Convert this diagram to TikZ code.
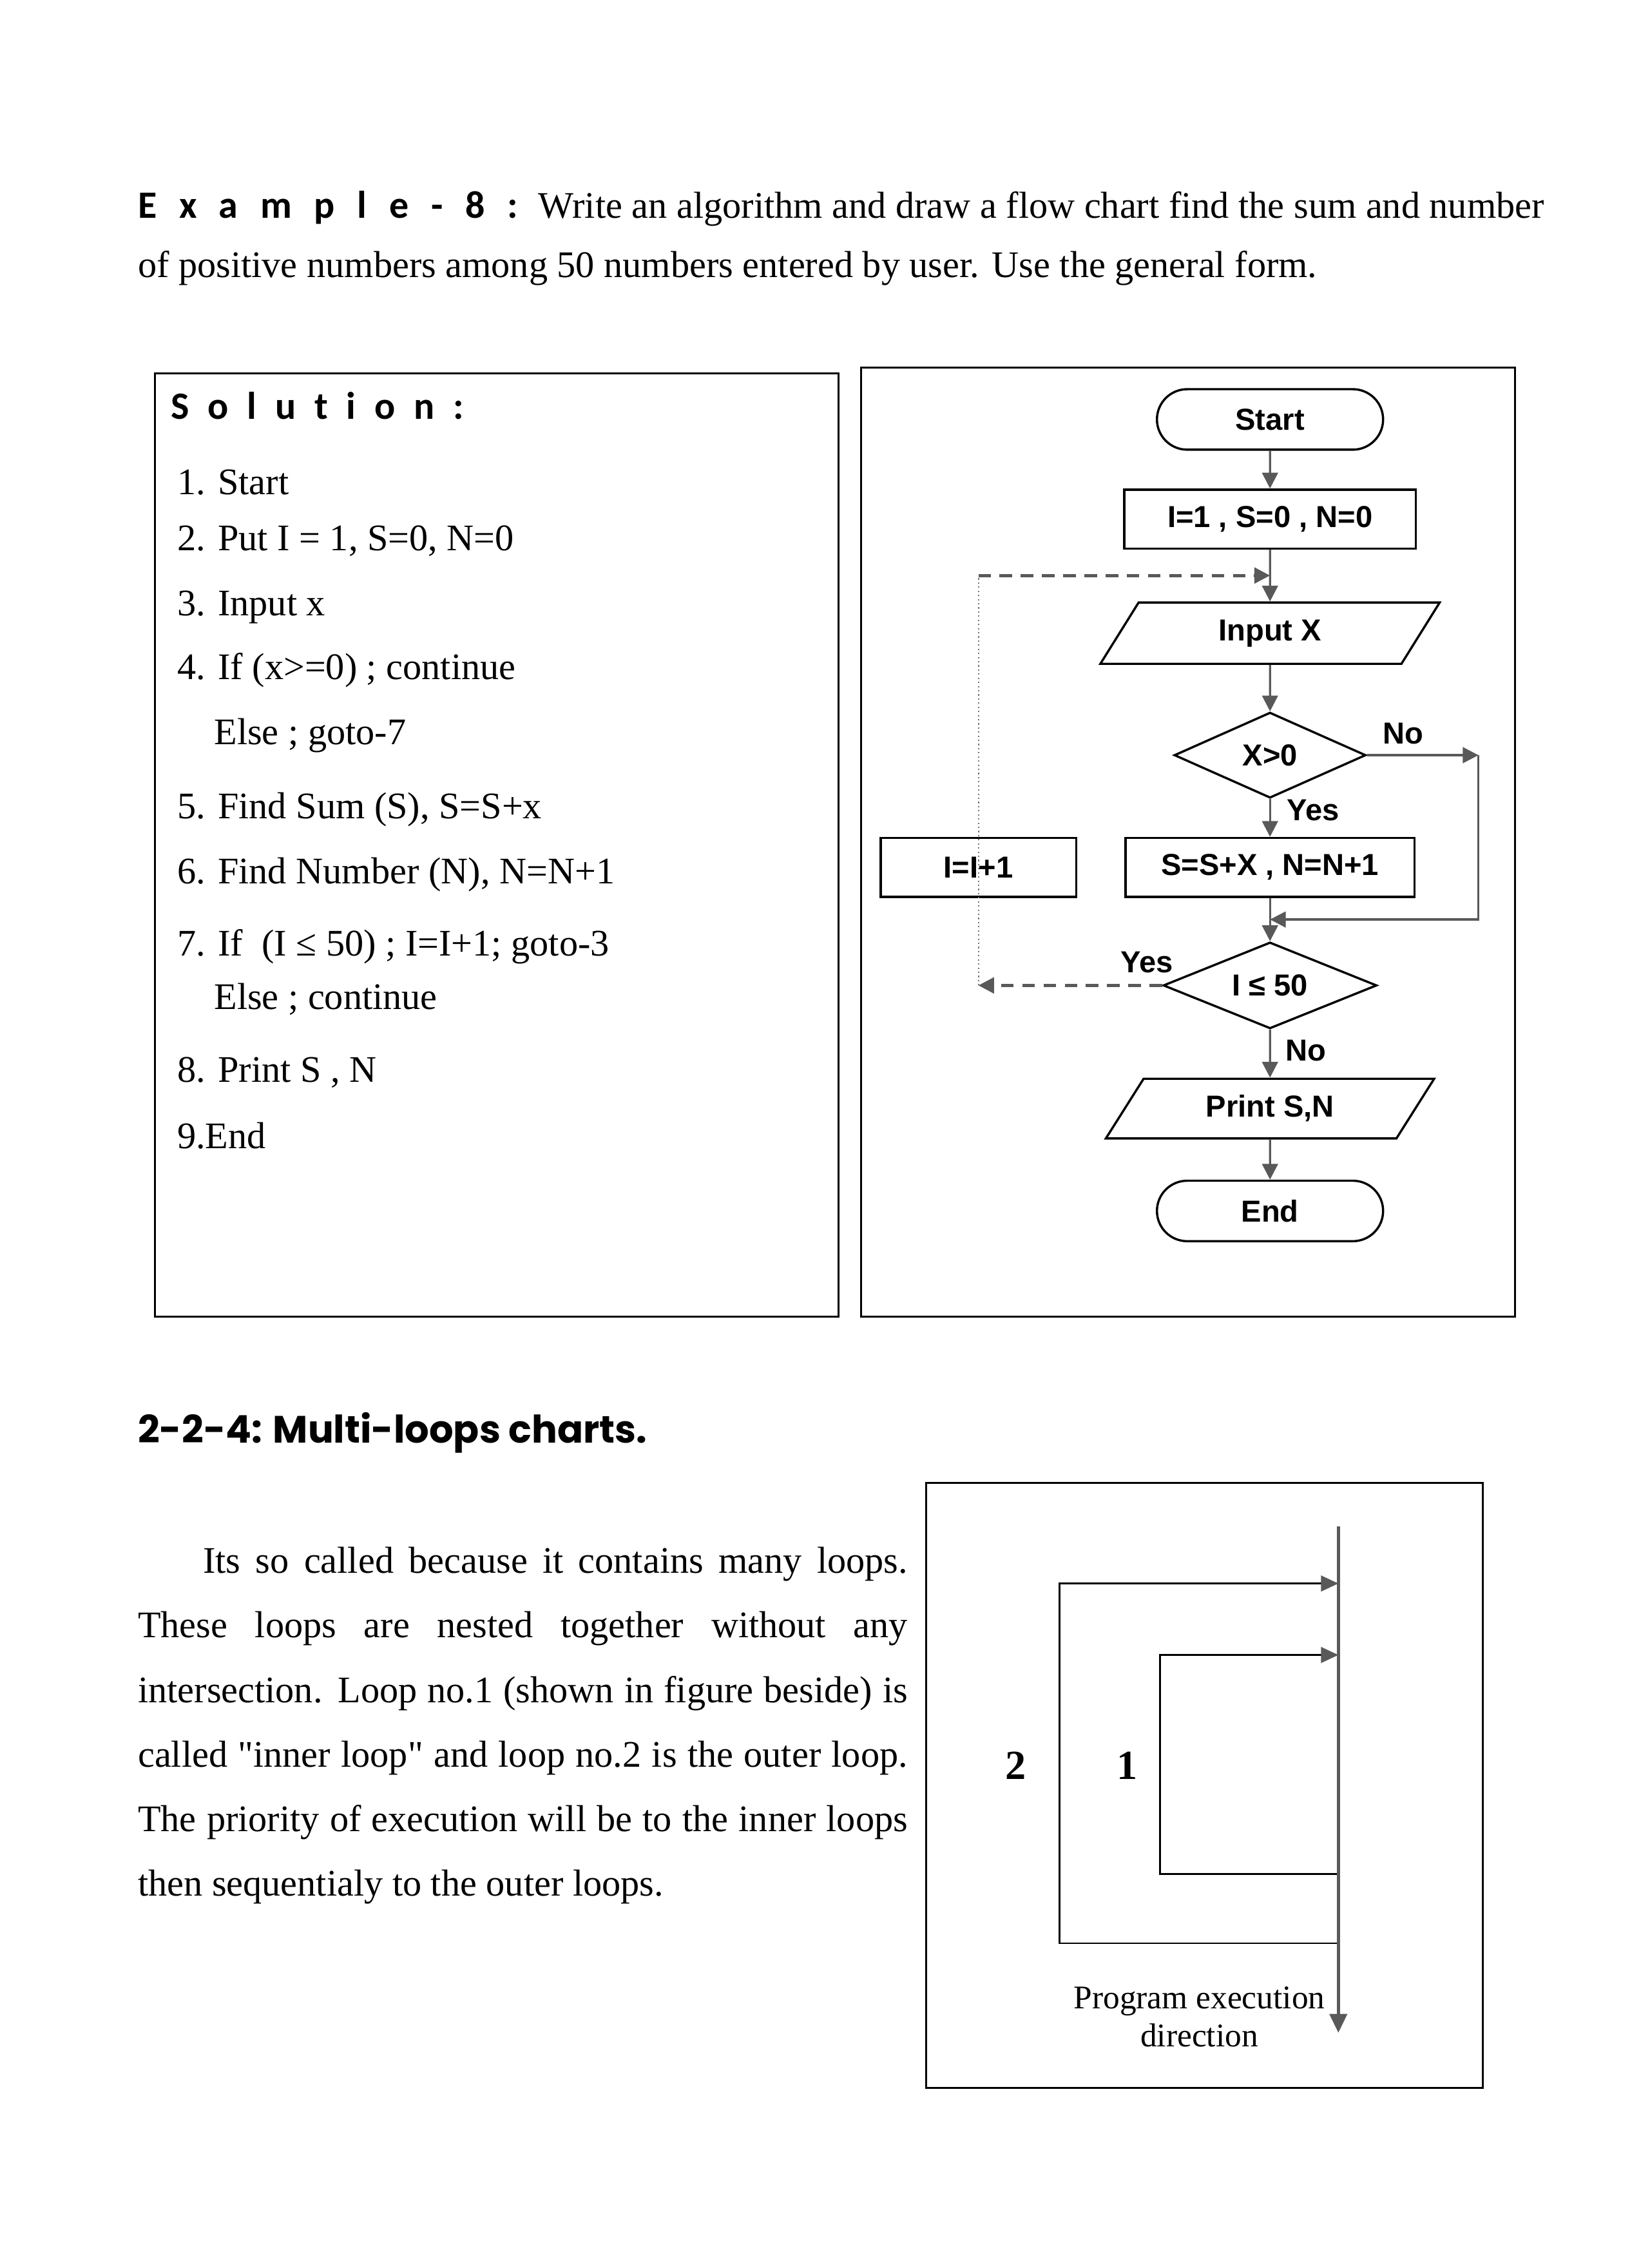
\documentclass[tikz,border=0pt]{standalone}
\usepackage{fontspec}
\setmainfont{Liberation Serif}
\newfontfamily\chartfont{Liberation Sans}
\newfontfamily\exfont[LetterSpace=58, Ligatures=NoCommon]{Carlito}
\newfontfamily\solfont[LetterSpace=48, Ligatures=NoCommon]{Carlito}
\newfontfamily\headfont{Poppins}
\usetikzlibrary{shapes.geometric,shapes.misc,arrows.meta,positioning,calc}

\newcommand{\chartbf}{\chartfont\bfseries\fontsize{11}{13}\selectfont}
\newcommand{\bodyfont}{\fontsize{13.6}{16}\selectfont}

\begin{document}
\begin{tikzpicture}[
  node distance=6mm,
  frame/.style={draw, line width=0.7pt},
  chart/.style={draw, line width=0.8pt, font=\chartbf, inner sep=2pt},
  terminal/.style={chart, rounded rectangle, minimum width=3.02cm, minimum height=0.77cm},
  process/.style={chart, rectangle, minimum height=0.75cm},
  io/.style={chart, trapezium, trapezium left angle=45, trapezium right angle=135, trapezium stretches body, minimum height=0.78cm},
  decision/.style={chart, diamond, aspect=2.4},
  lbl/.style={font=\chartbf, inner sep=0pt},
  txt/.style={font=\bodyfont, inner sep=0pt, anchor=base west},
  flow/.style={-{Triangle[length=2mm, width=2mm]}, line width=0.8pt, color=black!65},
  back/.style={flow, line width=1.1pt, dash pattern=on 1.6mm off 1.1mm},
  guide/.style={line width=0.5pt, color=black!55, densely dotted},
  loopline/.style={-{Triangle[length=2.2mm, width=2mm, color=black!65]}, line width=0.6pt},
  exec/.style={-{Triangle[length=2.4mm, width=2.2mm]}, line width=1.2pt, color=black!65}
]
  \path[use as bounding box, fill=white] (0,0) rectangle (21,-28.875);

  % problem statement
  \node[txt, font=\exfont\bfseries\fontsize{14}{16}\selectfont] (extitle) at (1.75,-2.78) {Example-8:};
  \node[txt] (task1) at (6.85,-2.78) {Write an algorithm and draw a flow chart find the sum and number};
  \node[txt] (task2) at (1.75,-3.53) {of positive numbers among 50 numbers entered by user. Use the general form.};

  % algorithm
  \draw[frame] (1.97,-4.75) rectangle (10.68,-16.76);
  \node[txt, font=\solfont\bfseries\fontsize{14}{16}\selectfont] (soltitle) at (2.17,-5.34) {Solution:};
  \node[txt] (step1) at (2.25,-6.30) {1. Start};
  \node[txt] (step2) at (2.25,-7.01) {2. Put I = 1, S=0, N=0};
  \node[txt] (step3) at (2.25,-7.84) {3. Input x};
  \node[txt] (step4) at (2.25,-8.65) {4. If (x>=0) ; continue};
  \node[txt] (else4) at (2.72,-9.48) {Else ; goto-7};
  \node[txt] (step5) at (2.25,-10.42) {5. Find Sum (S), S=S+x};
  \node[txt] (step6) at (2.25,-11.25) {6. Find Number (N), N=N+1};
  \node[txt] (step7) at (2.25,-12.17) {7. If~ (I ≤ 50) ; I=I+1; goto-3};
  \node[txt] (else7) at (2.72,-12.85) {Else ; continue};
  \node[txt] (step8) at (2.25,-13.78) {8. Print S , N};
  \node[txt] (step9) at (2.25,-14.62) {9.End};

  % flow chart
  \draw[frame] (10.96,-4.68) rectangle (19.29,-16.76);
  \node[terminal] (start) at (16.17,-5.34) {Start};
  \node[process, minimum width=3.71cm, below=4.8mm of start] (init) {I=1 , S=0 , N=0};
  \node[io, minimum width=4.32cm, below=6.6mm of init] (input) {Input X};
  \node[decision, minimum width=2.44cm, minimum height=1.09cm, below=5.9mm of input] (test) {X>0};
  \node[process, minimum width=3.68cm, below=4.8mm of test] (sum) {S=S+X , N=N+1};
  \node[process, minimum width=2.49cm, left=6mm of sum] (incr) {I=I+1};
  \node[decision, minimum width=2.72cm, minimum height=1.1cm, below=5.5mm of sum] (loop) {I ≤ 50};
  \node[io, minimum width=4.18cm, minimum height=0.76cm, below=6.1mm of loop] (print) {Print S,N};
  \node[terminal, below=5.1mm of print] (stop) {End};

  \draw[flow] (start) -- (init);
  \draw[flow] (init) -- (input);
  \draw[flow] (input) -- (test);
  \draw[flow] (test) -- (sum);
  \draw[flow] (sum) -- (loop);
  \draw[flow] (loop) -- (print);
  \draw[flow] (print) -- (stop);

  % no branch of X>0
  \coordinate[right=1.42cm of test.east] (noturn);
  \coordinate (join) at ($(sum.south)!.5!(loop.north)$);
  \draw[flow] (test.east) -- (noturn);
  \draw[flow] (noturn) |- (join);

  % loop back
  \coordinate (merge) at ($(init.south)!.5!(input.north)$);
  \coordinate (turn) at (incr |- loop.west);
  \coordinate (rise) at (incr |- merge);
  \draw[back] (loop.west) -- (turn);
  \draw[guide] (turn) -- (rise);
  \draw[back] (rise) -- (merge);

  \node[lbl, above right=1.3mm and 2mm of test.east] (testno) {No};
  \node[lbl, below right=0mm and 2.1mm of test.south] (testyes) {Yes};
  \node[lbl, anchor=south east] (loopyes) at ([shift={(1.5mm,1.5mm)}]loop.west) {Yes};
  \node[lbl, below right=1.2mm and 1.9mm of loop.south] (loopno) {No};

  % multi-loops
  \node[anchor=base west, inner sep=0pt, font=\headfont\bfseries\fontsize{13.8}{16}\selectfont] (section) at (1.75,-18.37) {2-2-4: Multi-loops charts.};
  \node[anchor=north west, inner sep=0pt, text width=9.8cm, align=justify, font=\fontsize{13.6}{23.4}\selectfont] (para) at (1.75,-19.69)
    {\hyphenpenalty=10000\hspace*{0.83cm}Its so called because it contains many loops.\linebreak
     These loops are nested together without any\linebreak
     intersection. Loop no.1 (shown in figure beside) is\linebreak
     called \textquotedbl inner loop\textquotedbl{} and loop no.2 is the outer loop.\linebreak
     The priority of execution will be to the inner loops\linebreak
     then sequentialy to the outer loops.};

  \draw[frame] (11.79,-18.88) rectangle (18.88,-26.58);
  \coordinate (head) at (17.04,-19.43);
  \coordinate (tail) at (17.04,-25.88);
  \coordinate (outerstart) at (17.04,-24.74);
  \coordinate (outercorner) at (13.49,-20.16);
  \coordinate (outerend) at (outercorner -| head);
  \coordinate (innerstart) at (17.04,-23.86);
  \coordinate (innercorner) at (14.77,-21.07);
  \coordinate (innerend) at (innercorner -| head);
  \draw[loopline] (outerstart) -| (outercorner) -- (outerend);
  \draw[loopline] (innerstart) -| (innercorner) -- (innerend);
  \draw[exec] (head) -- (tail);

  \node[inner sep=0pt, font=\bfseries\fontsize{15}{17}\selectfont] (outerno) at (12.93,-22.48) {2};
  \node[inner sep=0pt, font=\bfseries\fontsize{15}{17}\selectfont] (innerno) at (14.35,-22.48) {1};
  \node[inner sep=0pt, align=center, font=\fontsize{12}{13.8}\selectfont] (execlbl) at (15.27,-25.68) {Program execution\\direction};
\end{tikzpicture}
\end{document}
